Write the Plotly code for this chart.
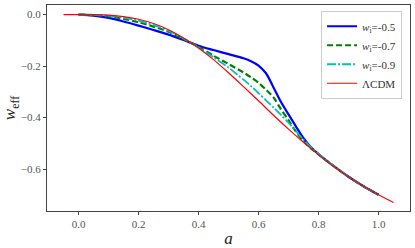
import plotly.graph_objects as go

a_lcdm = [-0.05, 0.0, 0.05, 0.1, 0.15, 0.2, 0.25, 0.3, 0.35, 0.4, 0.45, 0.5, 0.55, 0.6,
          0.65, 0.7, 0.75, 0.8, 0.85, 0.9, 0.95, 1.0, 1.05]
w_lcdm = [0.0, 0.0, -0.0003, -0.0023, -0.0078, -0.0183, -0.035, -0.059, -0.091, -0.130,
          -0.175, -0.226, -0.280, -0.335, -0.391, -0.445, -0.496, -0.544, -0.589, -0.630,
          -0.667, -0.700, -0.730]

a_w = [0.0, 0.05, 0.1, 0.15, 0.2, 0.25, 0.3, 0.35, 0.4, 0.45, 0.5, 0.55, 0.575, 0.6,
       0.625, 0.65, 0.675, 0.7, 0.725, 0.75, 0.775, 0.8, 0.85, 0.9, 0.95, 1.0]
w_05 = [0.0, -0.004, -0.013, -0.027, -0.043, -0.060, -0.078, -0.099, -0.121, -0.138,
        -0.154, -0.170, -0.181, -0.198, -0.228, -0.283, -0.340, -0.388, -0.435, -0.480,
        -0.515, -0.542, -0.588, -0.630, -0.667, -0.700]
w_07 = [0.0, -0.002, -0.007, -0.017, -0.030, -0.047, -0.067, -0.095, -0.125, -0.160,
        -0.192, -0.225, -0.244, -0.265, -0.292, -0.322, -0.368, -0.410, -0.455, -0.492,
        -0.520, -0.543, -0.588, -0.630, -0.667, -0.700]
w_09 = [0.0, -0.001, -0.004, -0.012, -0.024, -0.041, -0.063, -0.093, -0.128, -0.166,
        -0.206, -0.253, -0.278, -0.305, -0.333, -0.361, -0.390, -0.420, -0.453, -0.486,
        -0.515, -0.541, -0.587, -0.629, -0.667, -0.700]

x_ticks = [0.0, 0.2, 0.4, 0.6, 0.8, 1.0]
y_ticks = [0.0, -0.2, -0.4, -0.6]

FONT = "Liberation Serif"

fig = go.Figure()
fig.add_trace(go.Scatter(x=a_w, y=w_05, mode="lines", name="<i>w</i><sub>i</sub>=-0.5",
                         line=dict(color="#0000ff", width=2.2, shape="spline", smoothing=0.8)))
fig.add_trace(go.Scatter(x=a_w, y=w_07, mode="lines", name="<i>w</i><sub>i</sub>=-0.7",
                         line=dict(color="#008000", width=2.2, dash="6px,3px", shape="spline", smoothing=0.8)))
fig.add_trace(go.Scatter(x=a_w, y=w_09, mode="lines", name="<i>w</i><sub>i</sub>=-0.9",
                         line=dict(color="#00bfbf", width=1.8, dash="9px,2px,2px,2px", shape="spline", smoothing=0.8)))
fig.add_trace(go.Scatter(x=a_lcdm, y=w_lcdm, mode="lines", name="ΛCDM",
                         line=dict(color="#ff0000", width=1.2, shape="spline", smoothing=0.8)))

fig.update_layout(
    width=415, height=248,
    margin=dict(l=47, r=4, t=4, b=36),
    paper_bgcolor="white", plot_bgcolor="white",
    font=dict(family=FONT, color="#333333", size=11),
    showlegend=True,
    legend=dict(x=0.755, y=0.972, xanchor="left", yanchor="top",
                bgcolor="white", bordercolor="#cccccc", borderwidth=1,
                font=dict(family=FONT, size=11, color="#333333"),
                itemwidth=30, tracegroupgap=0),
)
fig.update_xaxes(range=[-0.105, 1.105], tickvals=x_ticks, tickformat=".1f",
                 showgrid=False, zeroline=False, showline=True, linecolor="#444444", linewidth=1,
                 mirror=True, ticks="outside", ticklen=3, tickcolor="#444444",
                 tickfont=dict(family=FONT, size=11, color="#555555"),
                 title=dict(text="<i>a</i>", font=dict(family=FONT, size=17, color="#222222"), standoff=2))
fig.update_yaxes(range=[-0.763, 0.037], tickvals=y_ticks, tickformat=".1f",
                 showgrid=False, zeroline=False, showline=True, linecolor="#444444", linewidth=1,
                 mirror=True, ticks="outside", ticklen=3, tickcolor="#444444",
                 tickfont=dict(family=FONT, size=11, color="#555555"),
                 title=dict(text="<i>w</i><sub>eff</sub>", font=dict(family=FONT, size=17, color="#222222"), standoff=4))

fig.write_html("out.html", config={"displayModeBar": False},
               post_script="document.body.style.margin='0';document.body.style.overflow='hidden';")
